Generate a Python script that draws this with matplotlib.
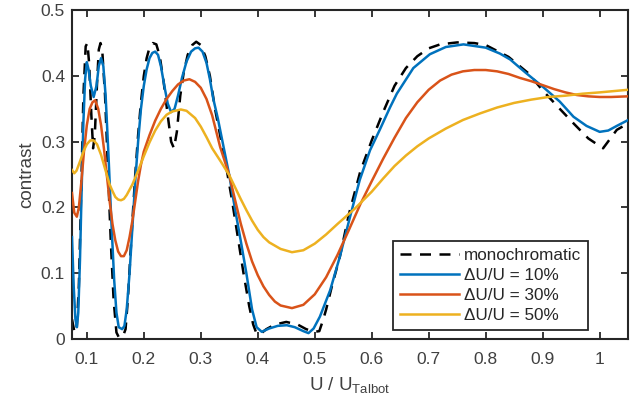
import matplotlib
matplotlib.use("Agg")
import matplotlib.pyplot as plt
import numpy as np

plt.rcParams['font.family'] = ['Liberation Sans', 'DejaVu Sans']
plt.rcParams['mathtext.default'] = 'regular'

# monochromatic (black dashed)
x_mono = [0.074, 0.078, 0.082, 0.086, 0.09, 0.094, 0.098, 0.101, 0.104, 0.108, 0.111, 0.114,
          0.118, 0.121, 0.124, 0.127, 0.132, 0.137, 0.142, 0.147, 0.152, 0.156, 0.163, 0.168,
          0.172, 0.176, 0.18, 0.185, 0.19, 0.195, 0.2, 0.205, 0.21, 0.216, 0.222, 0.228,
          0.235, 0.242, 0.248, 0.253, 0.258, 0.264, 0.27, 0.277, 0.285, 0.292, 0.3, 0.308,
          0.316, 0.325, 0.335, 0.345, 0.355, 0.365, 0.375, 0.385, 0.392, 0.398, 0.405, 0.415,
          0.43, 0.45, 0.47, 0.485, 0.5, 0.508, 0.515, 0.52, 0.53, 0.544, 0.56, 0.58, 0.6,
          0.62, 0.64, 0.66, 0.68, 0.7, 0.72, 0.75, 0.78, 0.8, 0.82, 0.84, 0.875, 0.9, 0.93,
          0.954, 0.98, 1.006, 1.03, 1.05]
y_mono = [0.03, 0.012, 0.01, 0.08, 0.22, 0.37, 0.445, 0.45, 0.42, 0.34, 0.29, 0.31,
          0.39, 0.44, 0.45, 0.44, 0.37, 0.26, 0.15, 0.06, 0.01, 0.003, 0.003, 0.015,
          0.06, 0.12, 0.18, 0.25, 0.31, 0.36, 0.4, 0.427, 0.443, 0.45, 0.448, 0.43,
          0.39, 0.34, 0.3, 0.29, 0.315, 0.37, 0.405, 0.432, 0.447, 0.452, 0.447, 0.43,
          0.4, 0.35, 0.305, 0.26, 0.21, 0.155, 0.1, 0.05, 0.022, 0.008, 0.008, 0.015,
          0.022, 0.026, 0.022, 0.015, 0.011, 0.012, 0.03, 0.045, 0.08, 0.125, 0.19, 0.255, 0.302,
          0.345, 0.385, 0.412, 0.43, 0.442, 0.448, 0.451, 0.45, 0.447, 0.438, 0.429, 0.404, 0.378, 0.35,
          0.328, 0.305, 0.29, 0.318, 0.328]

# dU/U = 10 %
x_10 = [0.074, 0.077, 0.08, 0.0825, 0.085, 0.088, 0.091, 0.094, 0.097, 0.1, 0.103, 0.107,
        0.112, 0.117, 0.121, 0.125, 0.129, 0.133, 0.138, 0.143, 0.148, 0.152, 0.156, 0.162,
        0.166, 0.17, 0.175, 0.18, 0.185, 0.19, 0.195, 0.2, 0.205, 0.21, 0.215, 0.22, 0.225,
        0.23, 0.236, 0.242, 0.248, 0.254, 0.26, 0.267, 0.275, 0.283, 0.29, 0.296, 0.303,
        0.31, 0.316, 0.322, 0.33, 0.34, 0.35, 0.36, 0.37, 0.38, 0.39, 0.398, 0.407, 0.42,
        0.435, 0.451, 0.465, 0.48, 0.489, 0.498, 0.509, 0.527, 0.544, 0.562, 0.579, 0.597,
        0.614, 0.632, 0.644, 0.673, 0.702, 0.73, 0.761, 0.8, 0.825, 0.843, 0.87, 0.901,
        0.93, 0.954, 0.977, 1.0, 1.015, 1.03, 1.05]
y_10 = [0.155, 0.08, 0.03, 0.018, 0.04, 0.12, 0.23, 0.33, 0.395, 0.421, 0.41, 0.385,
        0.368, 0.385, 0.415, 0.427, 0.415, 0.37, 0.28, 0.18, 0.09, 0.04, 0.018, 0.015,
        0.02, 0.045, 0.1, 0.17, 0.24, 0.3, 0.35, 0.385, 0.41, 0.427, 0.435, 0.437, 0.432,
        0.415, 0.385, 0.358, 0.345, 0.35, 0.37, 0.397, 0.422, 0.437, 0.442, 0.443, 0.437,
        0.42, 0.395, 0.365, 0.335, 0.292, 0.249, 0.198, 0.15, 0.1, 0.045, 0.018, 0.011, 0.016,
        0.02, 0.021, 0.018, 0.012, 0.009, 0.016, 0.034, 0.074, 0.125, 0.186, 0.242, 0.287,
        0.318, 0.352, 0.373, 0.412, 0.433, 0.444, 0.448, 0.443, 0.434, 0.425, 0.405, 0.383,
        0.361, 0.338, 0.324, 0.315, 0.317, 0.324, 0.333]

# dU/U = 30 %
x_30 = [0.074, 0.078, 0.0825, 0.086, 0.09, 0.095, 0.1, 0.105, 0.11, 0.1146, 0.12, 0.125,
        0.13, 0.135, 0.14, 0.145, 0.15, 0.155, 0.16, 0.165, 0.17, 0.175, 0.18, 0.185, 0.19,
        0.195, 0.2, 0.21, 0.22, 0.23, 0.24, 0.25, 0.26, 0.27, 0.28, 0.29, 0.3, 0.31, 0.32,
        0.334, 0.35, 0.36, 0.37, 0.38, 0.39, 0.4, 0.41, 0.42, 0.43, 0.44, 0.46, 0.48, 0.5,
        0.52, 0.54, 0.56, 0.58, 0.6, 0.62, 0.64, 0.66, 0.68, 0.7, 0.72, 0.74, 0.76, 0.78,
        0.8, 0.82, 0.84, 0.86, 0.88, 0.9, 0.92, 0.94, 0.96, 0.98, 1.0, 1.02, 1.05]
y_30 = [0.222, 0.192, 0.186, 0.2, 0.235, 0.285, 0.325, 0.35, 0.36, 0.363, 0.35, 0.325,
        0.29, 0.25, 0.21, 0.175, 0.15, 0.133, 0.126, 0.126, 0.135, 0.155, 0.18, 0.21, 0.24,
        0.265, 0.285, 0.31, 0.332, 0.35, 0.365, 0.377, 0.387, 0.393, 0.395, 0.391, 0.382, 0.365, 0.34,
        0.292, 0.249, 0.212, 0.176, 0.145, 0.118, 0.097, 0.08, 0.067, 0.057, 0.051, 0.047, 0.052, 0.068,
        0.094, 0.128, 0.166, 0.205, 0.24, 0.274, 0.306, 0.336, 0.36, 0.379, 0.393, 0.402, 0.407, 0.409,
        0.409, 0.407, 0.403, 0.397, 0.392, 0.386, 0.38, 0.375, 0.371, 0.369, 0.368, 0.368, 0.369]

# dU/U = 50 %
x_50 = [0.074, 0.078, 0.082, 0.088, 0.095, 0.1, 0.106, 0.112, 0.118, 0.125, 0.13, 0.135,
        0.14, 0.145, 0.15, 0.155, 0.16, 0.165, 0.17, 0.18, 0.19, 0.2, 0.21, 0.22, 0.23,
        0.24, 0.25, 0.265, 0.275, 0.29, 0.3, 0.31, 0.32, 0.335, 0.35, 0.37, 0.38, 0.39,
        0.4, 0.41, 0.42, 0.44, 0.46, 0.48, 0.5, 0.52, 0.54, 0.57, 0.6, 0.62, 0.64, 0.66,
        0.68, 0.7, 0.73, 0.76, 0.79, 0.82, 0.85, 0.88, 0.91, 0.94, 0.97, 1.0, 1.05]
y_50 = [0.257, 0.252, 0.256, 0.27, 0.287, 0.296, 0.302, 0.302, 0.296, 0.28, 0.265, 0.25,
        0.235, 0.225, 0.216, 0.212, 0.211, 0.213, 0.219, 0.235, 0.256, 0.278, 0.299, 0.317, 0.331,
        0.341, 0.346, 0.349, 0.347, 0.336, 0.323, 0.307, 0.29, 0.27, 0.249, 0.213, 0.196, 0.18,
        0.166, 0.155, 0.147, 0.137, 0.132, 0.135, 0.145, 0.159, 0.175, 0.198, 0.224, 0.244, 0.263, 0.279,
        0.293, 0.305, 0.32, 0.333, 0.343, 0.352, 0.359, 0.364, 0.368, 0.37, 0.373, 0.375, 0.379]

labels = ['monochromatic', '\u0394U/U = 10%', '\u0394U/U = 30%', '\u0394U/U = 50%']
xticks = [0.1, 0.2, 0.3, 0.4, 0.5, 0.6, 0.7, 0.8, 0.9, 1.0]
xticklabels = ['0.1', '0.2', '0.3', '0.4', '0.5', '0.6', '0.7', '0.8', '0.9', '1']
yticks = [0, 0.1, 0.2, 0.3, 0.4, 0.5]
yticklabels = ['0', '0.1', '0.2', '0.3', '0.4', '0.5']

dark = '#262626'
grey = '#404040'
fig = plt.figure(figsize=(6.4, 4.07), dpi=100)
ax = fig.add_axes([0.1125, 0.167, 0.869, 0.808])

ax.plot(x_mono, y_mono, color='black', lw=1.8, dashes=(4.4, 3.4), label=labels[0], zorder=2)
ax.plot(x_10, y_10, color='#0072BD', lw=1.8, label=labels[1], zorder=3)
ax.plot(x_30, y_30, color='#D95319', lw=1.8, label=labels[2], zorder=3)
ax.plot(x_50, y_50, color='#EDB120', lw=1.8, label=labels[3], zorder=3)

ax.set_xlim(0.074, 1.05)
ax.set_ylim(0, 0.5)
ax.set_xticks(xticks)
ax.set_xticklabels(xticklabels)
ax.set_yticks(yticks)
ax.set_yticklabels(yticklabels)
ax.tick_params(direction='in', length=5, width=1.3, top=True, right=True,
               labelsize=12.5, labelcolor=grey, color=dark)
ax.tick_params(axis='x', pad=9)
ax.tick_params(axis='y', pad=5)
for s in ax.spines.values():
    s.set_linewidth(1.5)
    s.set_color(dark)

ax.set_xlabel('U / U$_{Talbot}$', fontsize=13.5, color=grey, labelpad=6)
ax.set_ylabel('contrast', fontsize=13.5, color=grey, labelpad=4)

leg = ax.legend(loc='lower right', bbox_to_anchor=(0.928, 0.028), borderaxespad=0,
                fancybox=False, fontsize=12.3, handlelength=3.4, handletextpad=0.3,
                labelspacing=0.28, borderpad=0.42, framealpha=1)
leg.get_frame().set_edgecolor(dark)
leg.get_frame().set_linewidth(1.3)
for t in leg.get_texts():
    t.set_color(dark)

fig.savefig('out.png', dpi=100)
